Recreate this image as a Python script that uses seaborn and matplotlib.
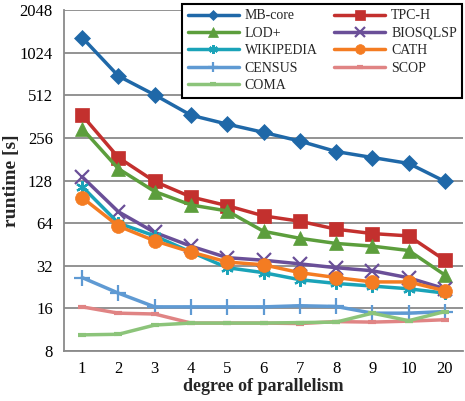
import matplotlib
matplotlib.use("Agg")
import matplotlib.pyplot as plt
import seaborn as sns
import pandas as pd
import numpy as np
from matplotlib.ticker import FixedLocator, FixedFormatter, NullFormatter

sns.set_theme(style="white")
plt.rcParams['font.family'] = ['Liberation Serif', 'DejaVu Serif']

degrees = ["1", "2", "3", "4", "5", "6", "7", "8", "9", "10", "20"]

mb_core   = [1310, 700, 515, 370, 320, 280, 243, 205, 186, 169, 126]
tpc_h     = [370, 186, 126, 98, 85, 72, 66, 58, 54, 52, 35]
lod_plus  = [298, 155, 107, 86, 78, 56, 50, 46, 44, 41, 27.5]
biosqlsp  = [136, 77, 55, 44, 36.5, 35, 33, 31, 29.5, 26.3, 22]
wikipedia = [116, 64, 52, 40, 31, 28.6, 25.5, 24, 23, 22, 20.5]
cath      = [97, 61, 48, 40, 34, 32.5, 28.6, 26.4, 24.6, 24.6, 21.3]
census    = [26.4, 20.5, 16.4, 16.4, 16.4, 16.4, 16.7, 16.5, 14.8, 14.8, 15.2]
scop      = [16.4, 14.8, 14.6, 12.6, 12.6, 12.6, 12.5, 12.9, 12.8, 13.0, 13.3]
coma      = [10.4, 10.5, 12.2, 12.6, 12.6, 12.6, 12.7, 12.8, 14.8, 13.1, 15.2]

series = {
    "MB-core": mb_core, "TPC-H": tpc_h, "LOD+": lod_plus, "BIOSQLSP": biosqlsp,
    "WIKIPEDIA": wikipedia, "CATH": cath, "CENSUS": census, "SCOP": scop, "COMA": coma,
}
colors = {
    "MB-core": "#1f68a8", "TPC-H": "#c3302e", "LOD+": "#5c9e3c", "BIOSQLSP": "#6a4f98",
    "WIKIPEDIA": "#1aa3b8", "CATH": "#f47c22", "CENSUS": "#5f9ad3", "SCOP": "#e08484",
    "COMA": "#8cc47a",
}
markers = {
    "MB-core": "D", "TPC-H": "s", "LOD+": "^", "BIOSQLSP": "x",
    "WIKIPEDIA": (6, 2, 0), "CATH": "o", "CENSUS": "+", "SCOP": "_", "COMA": "_",
}
msizes = {"MB-core": 8, "TPC-H": 10, "LOD+": 10, "BIOSQLSP": 10, "WIKIPEDIA": 9,
          "CATH": 10, "CENSUS": 11, "SCOP": 6, "COMA": 6}

rows = []
for name, vals in series.items():
    for i, v in enumerate(vals):
        rows.append({"dataset": name, "pos": i, "runtime": v})
df = pd.DataFrame(rows)

fig = plt.figure(figsize=(4.65, 4.01), dpi=100)
ax = fig.add_axes([0.1376, 0.1247, 0.8584, 0.8503])

for name in series:
    sub = df[df.dataset == name]
    m = markers[name]
    mew = 1.6 if name in ("BIOSQLSP", "WIKIPEDIA", "CENSUS") else (3 if m == "_" else 0.5)
    sns.lineplot(data=sub, x="pos", y="runtime", ax=ax, color=colors[name],
                 marker=m, markersize=msizes[name], markeredgewidth=mew,
                 markeredgecolor=colors[name], linewidth=2.5, label=name,
                 estimator=None, sort=False)

ax.set_yscale("log", base=2)
ax.set_ylim(8, 2048)
yt = [8, 16, 32, 64, 128, 256, 512, 1024, 2048]
ax.yaxis.set_major_locator(FixedLocator(yt))
ax.yaxis.set_major_formatter(FixedFormatter([str(t) for t in yt]))
ax.yaxis.set_minor_formatter(NullFormatter())
ax.yaxis.set_minor_locator(FixedLocator([]))

ax.set_xlim(-0.5, len(degrees) - 0.5)
ax.set_xticks(range(len(degrees)))
ax.set_xticklabels(degrees)
ax.set_xticks(np.arange(-0.5, len(degrees), 1.0), minor=True)
ax.tick_params(axis="x", which="major", length=0, labelsize=12, pad=7, colors="black")
ax.tick_params(axis="x", which="minor", length=5, width=1.2, color="#888888", direction="out")
ax.tick_params(axis="y", which="major", length=5, width=1.2, color="#888888",
               labelsize=12, pad=3, labelcolor="black")

ax.grid(axis="y", color="#8a8a8a", linewidth=1.3)
ax.grid(axis="x", visible=False)
for s in ("top", "right"):
    ax.spines[s].set_visible(False)
for s in ("left", "bottom"):
    ax.spines[s].set_color("#8a8a8a")
    ax.spines[s].set_linewidth(1.3)

ax.set_xlabel("degree of parallelism", fontsize=13, fontweight="bold", labelpad=1)
ax.set_ylabel("runtime [s]", fontsize=14, fontweight="bold", labelpad=0)

handles, labels = ax.get_legend_handles_labels()
hmap = dict(zip(labels, handles))
order = ["MB-core", "LOD+", "WIKIPEDIA", "CENSUS", "COMA",
         "TPC-H", "BIOSQLSP", "CATH", "SCOP"]
leg = ax.legend([hmap[k] for k in order], order, ncol=2, loc="upper right",
                bbox_to_anchor=(0.998, 1.018), borderaxespad=0, fontsize=10,
                frameon=True, fancybox=False, edgecolor="black", framealpha=1,
                handlelength=3.7, columnspacing=1.2, labelspacing=0.32,
                borderpad=0.4, handletextpad=0.4, markerscale=0.7)
leg.get_frame().set_linewidth(1.5)

fig.savefig("out.png", dpi=100)
